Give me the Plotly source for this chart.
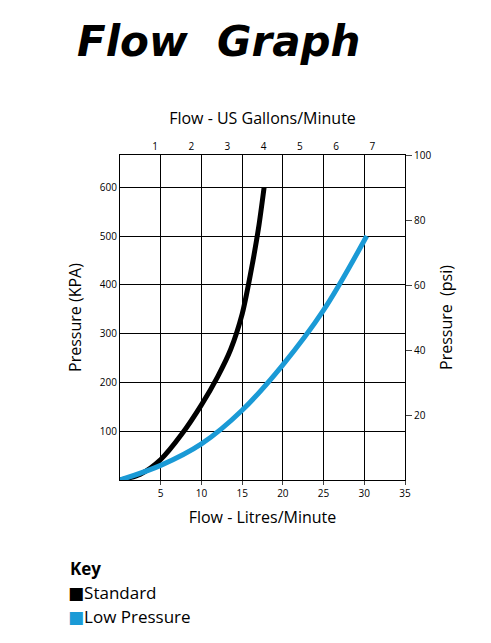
import plotly.graph_objects as go

std_lpm = [0, 2.5, 5, 7.5, 10, 12, 13.6, 15, 16, 17, 17.7]
std_kpa = [0, 12, 42, 92, 154, 212, 268, 340, 420, 515, 600]
low_lpm = [0, 5, 10, 15, 20, 25, 30.3]
low_kpa = [0, 30, 74, 143, 236, 348, 500]
x_ticks = [5, 10, 15, 20, 25, 30, 35]
y_ticks = [100, 200, 300, 400, 500, 600]
psi_ticks = [20, 40, 60, 80, 100]
gal_ticks = [1, 2, 3, 4, 5, 6, 7]

OFF = 8
L, R, T, B = 120 - OFF, 86 + OFF, 155 - OFF, 163 + OFF

fig = go.Figure()
fig.add_trace(go.Scatter(x=std_lpm, y=std_kpa, mode="lines", line=dict(color="black", width=5, shape="spline", smoothing=0.8), showlegend=False))
fig.add_trace(go.Scatter(x=low_lpm, y=low_kpa, mode="lines", line=dict(color="#1a9ad6", width=5, shape="spline"), showlegend=False))
fig.add_trace(go.Scatter(x=[None], y=[None], xaxis="x2", yaxis="y2", showlegend=False))

f = dict(family="Open Sans, DejaVu Sans", color="black")
fig.update_layout(
    width=491, height=643, paper_bgcolor="white", plot_bgcolor="white",
    margin=dict(l=L, r=R, t=T, b=B),
    font=dict(family="Open Sans, DejaVu Sans", size=10, color="black"),
    xaxis=dict(range=[0, 35], tickvals=x_ticks, showgrid=True, gridcolor="black", gridwidth=1,
               showline=True, linecolor="black", ticks="outside", ticklen=4, zeroline=False,
               title=dict(text="Flow - Litres/Minute", font=dict(size=16, **f), standoff=12)),
    yaxis=dict(range=[0, 666], tickvals=y_ticks, showgrid=True, gridcolor="black", gridwidth=1,
               showline=True, linecolor="black", ticks="", zeroline=False,
               title=dict(text="Pressure (KPA)", font=dict(size=16, **f), standoff=14)),
    xaxis2=dict(overlaying="x", side="top", range=[0.034, 0.034 + 35/4.45], tickvals=gal_ticks, showgrid=False,
                showline=True, linecolor="black", ticks="", zeroline=False,
                title=dict(text="Flow - US Gallons/Minute", font=dict(size=16, **f), standoff=10)),
    yaxis2=dict(overlaying="y", side="right", range=[0, 100], tickvals=psi_ticks, showgrid=False,
                showline=True, linecolor="black", ticks="outside", ticklen=6, zeroline=False,
                title=dict(text="Pressure  (psi)", font=dict(size=16, **f), standoff=10)),
    annotations=[
        dict(text="<b><i>Flow  Graph</i></b>", x=75, y=42, showarrow=False,
             font=dict(size=42, family="DejaVu Sans", color="black"), xanchor="left", yanchor="middle"),
        dict(text="<b>Key</b>", x=68, y=568, showarrow=False, xanchor="left", yanchor="middle",
             font=dict(size=17, **f)),
        dict(text="<span style='color:black'>■</span>Standard", x=66, y=592, showarrow=False, xanchor="left",
             yanchor="middle", font=dict(size=17, **f)),
        dict(text="<span style='color:#1a9ad6'>■</span>Low Pressure", x=66, y=616, showarrow=False, xanchor="left",
             yanchor="middle", font=dict(size=17, **f)),
    ],
)
for a in fig.layout.annotations:
    a.xref = "paper"; a.yref = "paper"
    a.x = (a.x - OFF - L) / (491 - L - R)
    a.y = (643 - B - (a.y - OFF)) / (643 - T - B)
fig.write_html("out.html")
